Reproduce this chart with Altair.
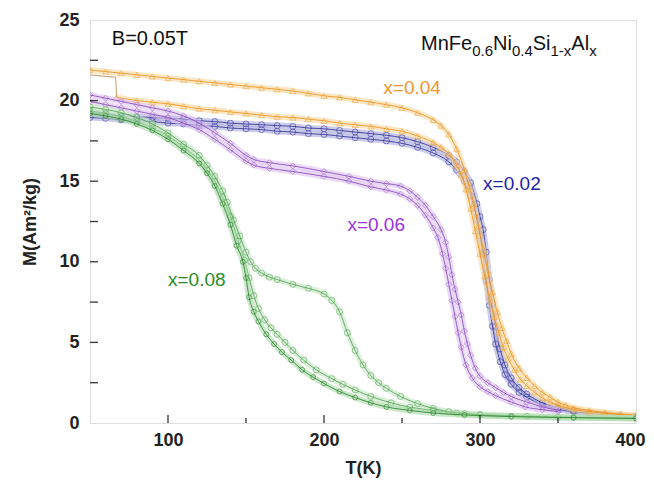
import altair as alt
import pandas as pd

# ---------------- data ----------------
blue_a = [(50,19.25),(60,19.15),(70,19.05),(80,19.0),(90,18.95),(100,18.9),(110,18.85),(120,18.75),(130,18.7),(140,18.6),(150,18.55),(160,18.5),(170,18.45),(180,18.4),(190,18.3),(200,18.25),(210,18.15),(220,18.05),(230,17.95),(240,17.85),(250,17.7),(260,17.45),(270,17.1),(280,16.6),(285,16.2),(290,15.6),(294,14.9),(298,13.6),(300,12.8),(302,12.0),(304,10.6),(306,8.9),(308,7.4),(310,6.0),(313,4.6),(316,3.6),(320,2.8),(325,2.2),(330,1.8),(340,1.25),(350,0.95),(360,0.78),(370,0.65),(380,0.55),(390,0.48),(400,0.42)]
blue_b = [(50,18.95),(60,18.9),(70,18.8),(80,18.75),(90,18.7),(100,18.6),(110,18.55),(120,18.45),(130,18.4),(140,18.3),(150,18.25),(160,18.2),(170,18.1),(180,18.05),(190,17.95),(200,17.9),(210,17.8),(220,17.7),(230,17.6),(240,17.5),(250,17.35),(260,17.1),(270,16.75),(280,16.2),(285,15.7),(290,15.0),(294,14.1),(298,12.6),(300,11.6),(302,10.4),(304,8.8),(306,7.3),(308,6.0),(310,4.9),(313,3.8),(316,3.0),(320,2.4),(325,1.9),(330,1.6),(340,1.1),(350,0.85),(360,0.7),(370,0.6),(380,0.5),(390,0.44),(400,0.4)]

orange_a = [(50,21.9),(60,21.8),(70,21.7),(80,21.6),(90,21.5),(100,21.4),(110,21.3),(120,21.2),(130,21.1),(140,21.0),(150,20.9),(160,20.8),(170,20.7),(180,20.6),(190,20.45),(200,20.3),(210,20.2),(220,20.05),(230,19.9),(240,19.75),(250,19.55),(260,19.25),(270,18.8),(275,18.45),(280,17.9),(285,17.0),(290,15.7),(293,14.7),(296,13.6),(299,12.2),(302,10.8),(305,9.4),(308,8.1),(311,6.9),(314,5.9),(317,5.1),(320,4.3),(325,3.4),(330,2.8),(335,2.3),(340,1.9),(345,1.6),(350,1.3),(355,1.1),(360,0.95),(370,0.78),(380,0.65),(390,0.55),(400,0.48)]
orange_b = [(67,20.2),(80,20.0),(90,19.9),(100,19.8),(110,19.65),(120,19.5),(130,19.4),(140,19.3),(150,19.2),(160,19.1),(170,19.0),(180,18.95),(190,18.85),(200,18.75),(210,18.6),(220,18.5),(230,18.4),(240,18.25),(250,18.1),(260,17.8),(270,17.4),(275,17.1),(280,16.7),(285,16.0),(288,15.4),(291,14.5),(294,13.3),(297,11.9),(300,10.5),(303,9.1),(306,7.8),(309,6.6),(312,5.6),(315,4.7),(318,4.0),(322,3.3),(326,2.7),(330,2.3),(335,1.9),(340,1.55),(345,1.3),(350,1.1),(360,0.85),(370,0.7),(380,0.6),(390,0.52),(400,0.45)]
orange_link = [(50,21.6),(58,21.52),(66.5,21.45),(67,20.2)]

purple_a = [(50,20.35),(60,20.15),(70,19.95),(80,19.75),(90,19.55),(100,19.35),(110,19.05),(120,18.6),(130,18.0),(140,17.35),(150,16.6),(155,16.35),(165,16.15),(180,15.95),(200,15.6),(216,15.3),(230,15.0),(240,14.85),(249,14.7),(255,14.4),(260,14.0),(265,13.5),(270,12.8),(275,12.0),(278,11.2),(280,10.3),(282,9.2),(284,8.3),(286,7.5),(288,6.7),(290,5.7),(292,4.9),(294,4.2),(297,3.4),(300,2.9),(305,2.5),(310,2.2),(315,1.9),(320,1.65),(330,1.3),(340,1.0),(351,0.78)]
purple_b = [(50,19.95),(60,19.75),(70,19.55),(80,19.35),(90,19.15),(100,18.95),(110,18.6),(120,18.2),(130,17.6),(140,16.95),(150,16.25),(155,16.0),(165,15.8),(180,15.6),(200,15.3),(216,15.0),(230,14.65),(240,14.45),(249,14.2),(255,13.9),(260,13.5),(265,12.9),(270,12.1),(273,11.5),(276,10.5),(278,9.6),(280,8.6),(282,7.6),(284,6.6),(286,5.6),(288,4.7),(291,3.6),(295,2.8),(300,2.25),(305,1.95),(310,1.7),(320,1.3),(329,1.0),(340,0.82),(350,0.72)]

green_a = [(50,19.6),(60,19.45),(70,19.25),(80,18.95),(90,18.55),(100,18.0),(110,17.3),(120,16.6),(125,16.0),(130,15.3),(135,14.4),(138,13.7),(142,12.6),(146,11.6),(150,10.6),(153,10.0),(156,9.6),(160,9.3),(165,9.05),(170,8.9),(180,8.6),(190,8.35),(200,8.0),(205,7.6),(210,6.9),(215,5.6),(220,4.5),(225,3.6),(230,2.95),(235,2.5),(240,2.15),(249,1.65),(260,1.2),(270,0.9),(280,0.7),(290,0.58),(300,0.5),(320,0.42),(350,0.35),(400,0.3)]
green_b = [(50,19.35),(60,19.2),(70,19.0),(80,18.7),(90,18.3),(100,17.8),(110,17.1),(120,16.3),(125,15.7),(130,15.0),(135,14.0),(140,12.8),(145,11.3),(149,10.1),(152,9.0),(155,7.9),(158,7.1),(162,6.4),(166,5.9),(170,5.5),(175,5.0),(180,4.5),(187,3.9),(195,3.3),(205,2.75),(212,2.4),(220,2.05),(230,1.65),(243,1.25),(255,0.98),(270,0.78),(285,0.62),(300,0.52),(330,0.42),(360,0.35),(400,0.3)]
green_c = [(50,19.2),(60,19.05),(70,18.85),(80,18.55),(90,18.15),(100,17.6),(110,16.9),(120,16.1),(125,15.5),(130,14.7),(135,13.6),(140,12.3),(144,11.0),(148,10.0),(150,9.0),(152,7.8),(155,6.9),(158,6.3),(163,5.5),(168,4.9),(173,4.4),(179,3.9),(186,3.3),(193,2.85),(200,2.45),(210,1.95),(220,1.58),(230,1.25),(240,1.0),(255,0.78),(270,0.62),(290,0.5),(320,0.4),(360,0.33),(400,0.28)]

sample_labels = ["x=0.02", "x=0.04", "x=0.06", "x=0.08"]
label_T = [302, 238, 215, 100]
label_M = [14.8, 20.8, 12.3, 8.9]

x_tick_major = [100, 200, 300]
x_tick_minor = [150, 250, 350]
y_ticks = [2.5, 5, 7.5, 10, 12.5, 15, 17.5, 20, 22.5]
x_label_values = [100, 200, 300, 400]
y_label_values = [0, 5, 10, 15, 20, 25]

field_text = "B=0.05T"
formula_pieces = [("MnFe", "main"), ("0.6", "sub"), ("Ni", "main"), ("0.4", "sub"),
                  ("Si", "main"), ("1-x", "sub"), ("Al", "main"), ("x", "sub")]

# ---------------- styling ----------------
FONT = "Liberation Sans"
W, H = 546, 403
MAIN_FS, SUB_FS = 20, 15
# Arial/Liberation Sans advance widths (per 1000 em)
ADV = {"M": 833, "n": 556, "F": 611, "e": 556, "N": 722, "i": 222, "S": 667, "A": 667,
       "l": 222, "0": 556, ".": 278, "6": 556, "4": 556, "1": 556, "-": 333, "x": 500}

xs = alt.Scale(domain=[50, 400], nice=False, zero=False)
ys = alt.Scale(domain=[0, 25], nice=False, zero=False)

xaxis = alt.Axis(values=x_label_values, title="T(K)", ticks=False, domain=False, grid=False,
                 labelFont=FONT, labelFontWeight="bold", labelFontSize=18, labelPadding=8,
                 labelColor="#222222", labelFlush=True, labelFlushOffset=9, labelOverlap=False,
                 titleFont=FONT, titleFontWeight="bold", titleFontSize=18, titlePadding=10,
                 titleColor="#222222")
yaxis = alt.Axis(values=y_label_values, title="M(Am²/kg)", ticks=False, domain=False, grid=False,
                 labelFont=FONT, labelFontWeight="bold", labelFontSize=18, labelPadding=11,
                 labelColor="#222222", labelFlush=False, labelOverlap=False,
                 titleFont=FONT, titleFontWeight="bold", titleFontSize=18, titlePadding=19,
                 titleColor="#222222")

X = alt.X("T:Q", scale=xs, axis=xaxis)
Y = alt.Y("M:Q", scale=ys, axis=yaxis)


def to_df(branches):
    rows = []
    for name, pts in branches:
        for i, (t, m) in enumerate(pts):
            rows.append({"T": t, "M": m, "branch": name, "idx": i})
    return pd.DataFrame(rows)


def sample_layers(branches, shape, band_col, pt_col, line_col, size=36):
    df = to_df(branches)
    base = alt.Chart(df).encode(x=X, y=Y, detail="branch:N")
    band = base.mark_line(color=band_col, strokeWidth=6, opacity=0.6, interpolate="monotone", clip=True)
    pts = base.mark_point(shape=shape, filled=False, size=size, strokeWidth=0.8,
                          color=pt_col, opacity=0.9, clip=True)
    line = base.mark_line(color=line_col, strokeWidth=0.8, interpolate="monotone", clip=True)
    return [band, pts, line]


layers = []
layers += sample_layers([("b_a", blue_a), ("b_b", blue_b)], "circle", "#a8a8dc", "#5050b0", "#2a2a90")
# thin link of the x=0.04 low-temperature branch
layers.append(alt.Chart(to_df([("o_link", orange_link)])).mark_line(color="#c89a6a", strokeWidth=1, clip=True)
              .encode(x=X, y=Y, order="idx:Q"))
layers += sample_layers([("o_a", orange_a), ("o_b", orange_b)], "triangle-up", "#f7d7a0", "#efb050", "#f08c10")
layers += sample_layers([("p_a", purple_a), ("p_b", purple_b)], "diamond", "#dcc2f0", "#b07ad8", "#8040b8")
layers += sample_layers([("g_a", green_a), ("g_b", green_b)], "circle", "#c4e6c4", "#6cb86c", "#4a9a4a")
layers += sample_layers([("g_c", green_c)], "circle", "#a8d8a8", "#3d933d", "#1f7a1f", size=24)

# inner ticks
tick_col = "#333333"
layers.append(alt.Chart(pd.DataFrame({"T": x_tick_major})).mark_rule(color=tick_col, strokeWidth=1.3)
              .encode(x=X, y=alt.value(H), y2=alt.value(H - 8)))
layers.append(alt.Chart(pd.DataFrame({"T": x_tick_minor})).mark_rule(color=tick_col, strokeWidth=1.3)
              .encode(x=X, y=alt.value(H), y2=alt.value(H - 5)))
layers.append(alt.Chart(pd.DataFrame({"M": y_ticks})).mark_rule(color=tick_col, strokeWidth=1.3)
              .encode(y=Y, x=alt.value(0), x2=alt.value(8)))

# sample labels
lab_df = pd.DataFrame({"T": label_T, "M": label_M, "txt": sample_labels,
                       "col": ["#2222aa", "#f0962a", "#9b30e0", "#2a8a2a"]})
layers.append(alt.Chart(lab_df).mark_text(align="left", baseline="middle", font=FONT, fontSize=19)
              .encode(x=X, y=Y, text="txt:N", color=alt.Color("col:N", scale=None)))

# field annotation
layers.append(alt.Chart(pd.DataFrame({"T": [64], "M": [23.8], "txt": [field_text]}))
              .mark_text(align="left", baseline="middle", font=FONT, fontSize=20, color="#111111")
              .encode(x=X, y=Y, text="txt:N"))

# formula with subscripts
offset = 0.0
for txt, kind in formula_pieces:
    fs = MAIN_FS if kind == "main" else SUB_FS
    dy = 0 if kind == "main" else 6
    layers.append(alt.Chart(pd.DataFrame({"T": [262.2], "M": [23.14], "txt": [txt]}))
                  .mark_text(align="left", baseline="alphabetic", font=FONT, fontSize=fs,
                             color="#111111", dx=offset, dy=dy)
                  .encode(x=X, y=Y, text="txt:N"))
    offset += sum(ADV[c] for c in txt) * fs / 1000.0

chart = alt.layer(*layers).properties(
    width=W, height=H,
    autosize=alt.AutoSizeParams(type="none"),
    padding={"left": 82, "top": 12, "right": 10, "bottom": 55},
).configure_view(stroke="#333333", strokeWidth=1.5).configure(background="white")

chart.save("out.html", embed_options={"renderer": "svg", "actions": False})
